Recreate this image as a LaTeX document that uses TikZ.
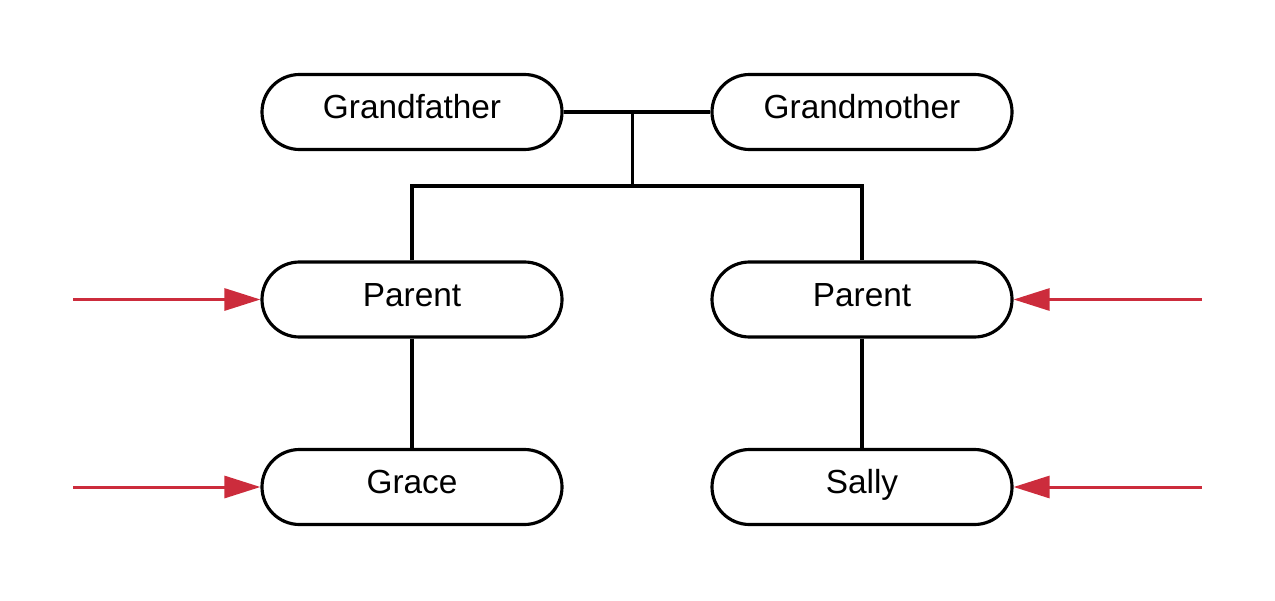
\documentclass[tikz,border=0pt]{standalone}
\usepackage{fontspec}
\setmainfont{Liberation Sans}
\usetikzlibrary{positioning, arrows.meta, calc}
\definecolor{personcol}{RGB}{0,0,0}
\definecolor{pointercol}{RGB}{204,44,60}

\begin{document}
\begin{tikzpicture}[
			node distance=3.75cm,
			on grid,
			person/.style={
				draw=personcol,
				rounded corners=0.75cm,
				minimum width=6cm,
				minimum height=1.5cm,
				line width=1.8pt,
				font=\fontsize{19}{22}\selectfont,
				text height=13.5pt,
				text depth=5.6pt,
				fill=white
			},
			link/.style={
				draw=personcol,
				line width=1.8pt
			},
			pointer/.style={
				draw=pointercol,
				line width=1.7pt,
				-{Triangle[length=0.72cm,width=0.44cm]}
			}
			]
			\useasboundingbox (0,0) rectangle (25.5,12);
			% People
			\node[person] (gf) at (8.24,9.76) {Grandfather};
			\node[person] (gm) [right=9cm of gf] {Grandmother};
			\node[person] (pl) [below=of gf] {Parent};
			\node[person] (pr) [below=of gm] {Parent};
			\node[person] (grace) [below=of pl] {Grace};
			\node[person] (sally) [below=of pr] {Sally};
			
			% Family lines
			\coordinate (join) at ($(gf.east)!0.47!(gm.west)$);
			\coordinate[below=1.48cm of join] (bar);
			\draw[link] (gf.east) -- (gm.west);
			\draw[link] (join) -- (bar);
			\draw[link] (pl.north) |- (bar) -| (pr.north);
			\draw[link] (pl.south) -- (grace.north);
			\draw[link] (pr.south) -- (sally.north);
			
			% Pointers
			\coordinate[left=3.74cm of pl.west] (plin);
			\coordinate[left=3.74cm of grace.west] (gracein);
			\coordinate[right=3.76cm of pr.east] (prin);
			\coordinate[right=3.76cm of sally.east] (sallyin);
			\draw[pointer] (plin) -- (pl.west);
			\draw[pointer] (gracein) -- (grace.west);
			\draw[pointer] (prin) -- (pr.east);
			\draw[pointer] (sallyin) -- (sally.east);
		\end{tikzpicture}
\end{document}
